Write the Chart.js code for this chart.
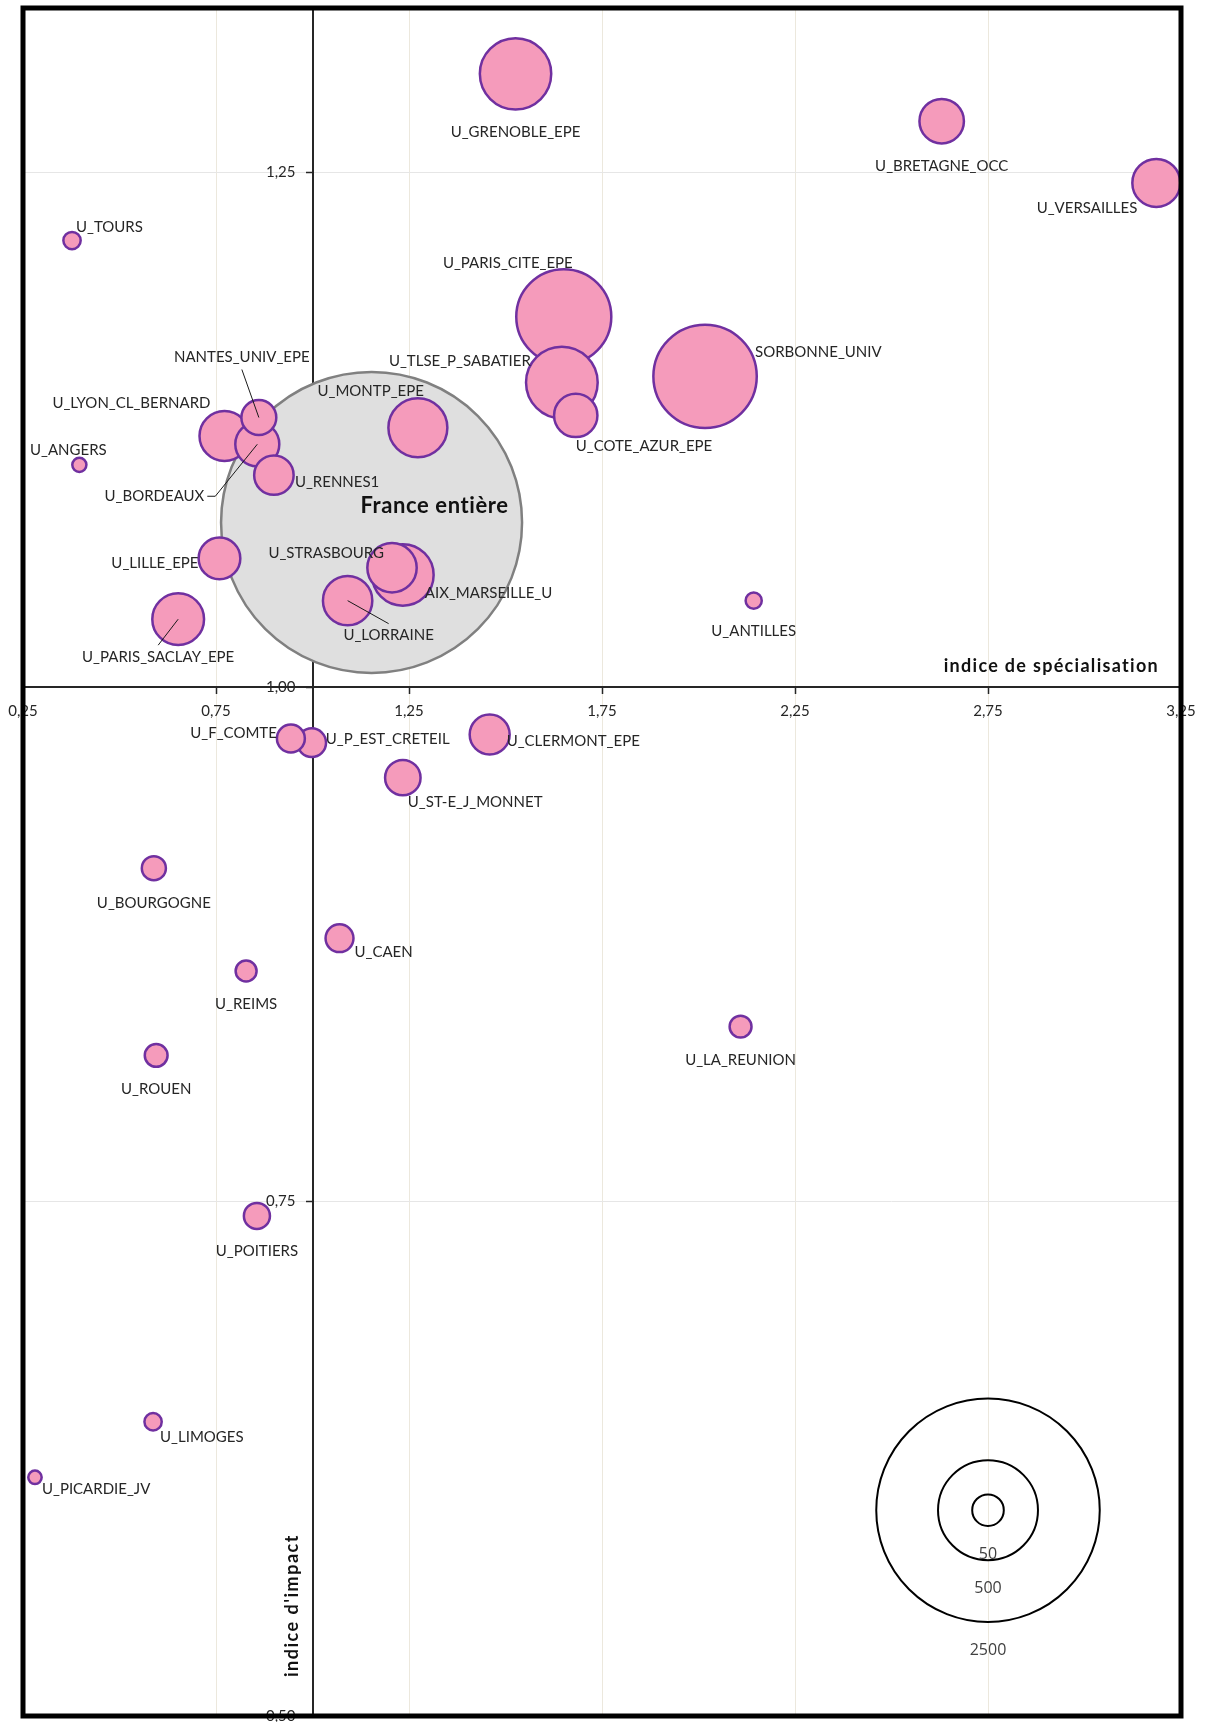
<!DOCTYPE html>
<html lang="fr">
<head>
<meta charset="utf-8">
<title>Indice d'impact et indice de spécialisation</title>
<script src="https://cdn.jsdelivr.net/npm/chart.js"></script>
<style>
  html, body { margin: 0; padding: 0; background: #fff; }
</style>
</head>
<body>
<canvas id="myChart" width="1206" height="1722"></canvas>
<script>
// établissements : indice de spécialisation (x), indice d'impact (y), nombre de publications (taille)
const names = [
  'U_GRENOBLE_EPE', 'U_BRETAGNE_OCC', 'U_VERSAILLES', 'U_TOURS', 'U_PARIS_CITE_EPE',
  'SORBONNE_UNIV', 'U_TLSE_P_SABATIER', 'U_COTE_AZUR_EPE', 'U_MONTP_EPE', 'NANTES_UNIV_EPE',
  'U_LYON_CL_BERNARD', 'U_BORDEAUX', 'U_RENNES1', 'U_ANGERS', 'U_LILLE_EPE',
  'U_STRASBOURG', 'AIX_MARSEILLE_U', 'U_LORRAINE', 'U_PARIS_SACLAY_EPE', 'U_ANTILLES',
  'U_F_COMTE', 'U_P_EST_CRETEIL', 'U_CLERMONT_EPE', 'U_ST-E_J_MONNET', 'U_BOURGOGNE',
  'U_CAEN', 'U_REIMS', 'U_ROUEN', 'U_LA_REUNION', 'U_POITIERS',
  'U_LIMOGES', 'U_PICARDIE_JV'
];
const specialisation = [
  1.526, 2.630, 3.186, 0.377, 1.651,
  2.017, 1.646, 1.682, 1.273, 0.861,
  0.772, 0.857, 0.900, 0.396, 0.759,
  1.206, 1.234, 1.091, 0.652, 2.143,
  0.944, 0.998, 1.459, 1.234, 0.589,
  1.070, 0.828, 0.595, 2.109, 0.856,
  0.587, 0.281
];
const impact = [
  1.298, 1.275, 1.245, 1.217, 1.180,
  1.151, 1.148, 1.132, 1.126, 1.131,
  1.122, 1.118, 1.103, 1.108, 1.0625,
  1.058, 1.0545, 1.042, 1.033, 1.042,
  0.975, 0.973, 0.977, 0.956, 0.912,
  0.878, 0.862, 0.821, 0.835, 0.743,
  0.643, 0.616
];
const publications = [
  255, 99, 115, 15, 452,
  535, 257, 94, 174, 61,
  125, 97, 78, 10, 87,
  122, 190, 122, 134, 13,
  39, 41, 80, 63, 29,
  39, 22, 26, 24, 34,
  15, 9
];

const franceName = 'France entière';
const franceSpec = 1.153;
const franceImpact = 1.080;
const francePubs = 4534;

const legendSizes = [2500, 500, 50];
const legendSpec = 2.75;
const legendImpact = 0.60;

const xTicks = [0.25, 0.75, 1.25, 1.75, 2.25, 2.75, 3.25];
const yTicks = [0.50, 0.75, 1.00, 1.25];

// placement des étiquettes (ancre, dx, dy, trait de rappel)
const labelPlace = {
  'U_VERSAILLES': ['r', -19, 25],
  'U_TOURS': ['l', 4, -13],
  'U_PARIS_CITE_EPE': ['r', 9, -54],
  'SORBONNE_UNIV': ['l', 50, -24],
  'U_TLSE_P_SABATIER': ['r', -31, -21],
  'U_COTE_AZUR_EPE': ['l', 0, 31],
  'U_MONTP_EPE': ['r', 6, -37],
  'NANTES_UNIV_EPE': ['c', -17, -60, 'bottom'],
  'U_LYON_CL_BERNARD': ['r', -14, -33],
  'U_BORDEAUX': ['r', -53, 52, 'elbow'],
  'U_RENNES1': ['l', 21, 7],
  'U_ANGERS': ['c', -11, -15],
  'U_LILLE_EPE': ['r', -21, 5],
  'U_STRASBOURG': ['r', -8, -15],
  'AIX_MARSEILLE_U': ['l', 22, 18],
  'U_LORRAINE': ['c', 41, 35, 'top'],
  'U_PARIS_SACLAY_EPE': ['c', -20, 38, 'top'],
  'U_F_COMTE': ['r', -14, -5],
  'U_P_EST_CRETEIL': ['l', 14, -3],
  'U_CLERMONT_EPE': ['l', 17, 7],
  'U_ST-E_J_MONNET': ['l', 5, 25],
  'U_CAEN': ['l', 15, 14],
  'U_LIMOGES': ['l', 7, 15],
  'U_PICARDIE_JV': ['l', 7, 12]
};

const PX_PER_SQRT = 2.235;
const radiusOf = s => PX_PER_SQRT * Math.sqrt(s);
const fmt = v => Number(v).toFixed(2).replace('.', ',');

// les plus grosses bulles d'abord, les petites par-dessus
const drawOrder = names.map((n, i) => i).sort((a, b) => publications[b] - publications[a]);
const univPoints = drawOrder.map(i => ({
  x: specialisation[i], y: impact[i], r: radiusOf(publications[i]), name: names[i]
}));

// l'axe vertical est au milieu : on décale ses graduations vers la gauche
const yLabelShift = {
  id: 'yLabelShift',
  beforeDraw(chart) {
    chart.scales.y.getLabelItems().forEach(item => {
      if (!item._shifted) {
        item.options.translation[0] -= 17;
        item._shifted = true;
      }
    });
  }
};

const labelsPlugin = {
  id: 'bubbleLabels',
  afterDatasetsDraw(chart) {
    const c = chart.ctx;
    c.save();
    c.font = '15px Lato';
    c.fillStyle = '#262626';
    c.strokeStyle = '#1a1a1a';
    c.lineWidth = 1;
    c.textBaseline = 'middle';
    c.textAlign = 'left';
    const pts = chart.data.datasets[0].data;
    chart.getDatasetMeta(0).data.forEach((el, i) => {
      const p = pts[i];
      const r = el.options.radius;
      const place = labelPlace[p.name] || ['b'];
      let anchor = place[0], dx = place[1], dy = place[2];
      if (anchor === 'b') { anchor = 'c'; dx = 0; dy = r + 22.5; }
      const w = c.measureText(p.name).width;
      const ax = el.x + dx, ay = el.y + dy;
      const left = anchor === 'l' ? ax : anchor === 'r' ? ax - w : ax - w / 2;
      c.fillText(p.name, left, ay);
      const lead = place[3];
      if (lead) {
        c.beginPath();
        if (lead === 'top') { c.moveTo(el.x, el.y); c.lineTo(left + w / 2, ay - 12); }
        if (lead === 'bottom') { c.moveTo(el.x, el.y); c.lineTo(left + w / 2, ay + 12); }
        if (lead === 'elbow') { c.moveTo(left + w + 3, ay); c.lineTo(left + w + 11, ay); c.lineTo(el.x, el.y); }
        c.stroke();
      }
    });

    // France entière
    const fr = chart.getDatasetMeta(1).data[0];
    c.font = 'bold 22px Lato';
    c.letterSpacing = '0.6px';
    c.fillStyle = '#111';
    c.textAlign = 'center';
    c.fillText(franceName, fr.x + 63, fr.y - 17);
    c.letterSpacing = '0px';

    // légende des tailles
    c.font = '16px "Open Sans"';
    c.fillStyle = '#404040';
    chart.getDatasetMeta(2).data.forEach((el, i) => {
      c.fillText(String(legendSizes[i]), el.x, el.y + el.options.radius + 28);
    });

    // titres des axes
    const area = chart.chartArea;
    const y1 = chart.scales.y.getPixelForValue(1);
    const x1 = chart.scales.x.getPixelForValue(1);
    c.font = 'bold 18px Lato';
    c.letterSpacing = '1.3px';
    c.fillStyle = '#111';
    c.textAlign = 'right';
    c.textBaseline = 'alphabetic';
    c.fillText('indice de spécialisation', area.right - 22, y1 - 15);
    c.translate(x1 - 15, area.bottom - 39);
    c.rotate(-Math.PI / 2);
    c.textAlign = 'left';
    c.letterSpacing = '1.5px';
    c.fillText("indice d'impact", 0, 0);
    c.restore();
  }
};

const framePlugin = {
  id: 'plotFrame',
  afterDraw(chart) {
    const a = chart.chartArea;
    const c = chart.ctx;
    c.save();
    c.strokeStyle = '#000';
    c.lineWidth = 5;
    c.strokeRect(a.left, a.top, a.right - a.left, a.bottom - a.top);
    c.restore();
  }
};

document.addEventListener("DOMContentLoaded", function () {
  const ctx = document.getElementById("myChart");

  new Chart(ctx, {
    type: 'bubble',
    data: {
      datasets: [{
        label: 'universités',
        data: univPoints,
        backgroundColor: '#F59BBB',
        borderColor: '#7030A0',
        borderWidth: 2.5,
        order: 0
      }, {
        label: franceName,
        data: [{ x: franceSpec, y: franceImpact, r: radiusOf(francePubs) }],
        backgroundColor: '#DFDFDF',
        borderColor: '#808080',
        borderWidth: 2.5,
        order: 1
      }, {
        label: 'légende',
        data: legendSizes.map(s => ({ x: legendSpec, y: legendImpact, r: radiusOf(s) })),
        backgroundColor: 'rgba(0,0,0,0)',
        borderColor: '#000',
        borderWidth: 2,
        order: 2
      }]
    },
    options: {
      responsive: false,
      animation: false,
      devicePixelRatio: 1,
      events: [],
      layout: { autoPadding: false, padding: { left: 23, top: 8, right: 25, bottom: 6 } },
      plugins: {
        legend: { display: false },
        tooltip: { enabled: false }
      },
      scales: {
        x: {
          type: 'linear',
          min: 0.25,
          max: 3.25,
          position: { y: 1 },
          afterBuildTicks: s => { s.ticks = xTicks.map(v => ({ value: v })); },
          afterFit: s => { s.paddingLeft = 0; s.paddingRight = 0; },
          grid: { color: '#ECE8DD', lineWidth: 1, tickLength: 6, tickColor: '#262626', tickWidth: 1.5 },
          border: { color: '#262626', width: 2 },
          ticks: {
            autoSkip: false, maxRotation: 0, padding: 9, color: '#262626',
            font: { family: 'Lato', size: 15 },
            callback: v => fmt(v)
          }
        },
        y: {
          type: 'linear',
          min: 0.5,
          max: 1.33,
          position: { x: 1 },
          afterBuildTicks: s => { s.ticks = yTicks.map(v => ({ value: v })); },
          afterFit: s => { s.paddingTop = 0; s.paddingBottom = 0; },
          grid: {
            color: c => (c.tick && c.tick.value === 1) ? 'rgba(0,0,0,0)' : '#E6E6E6',
            lineWidth: 1, tickLength: 6, tickColor: '#262626', tickWidth: 1.5
          },
          border: { color: '#262626', width: 2 },
          ticks: {
            padding: 12, color: '#262626',
            font: { family: 'Lato', size: 15 },
            callback: v => fmt(v)
          }
        }
      }
    },
    plugins: [yLabelShift, labelsPlugin, framePlugin]
  });
});
</script>
</body>
</html>
